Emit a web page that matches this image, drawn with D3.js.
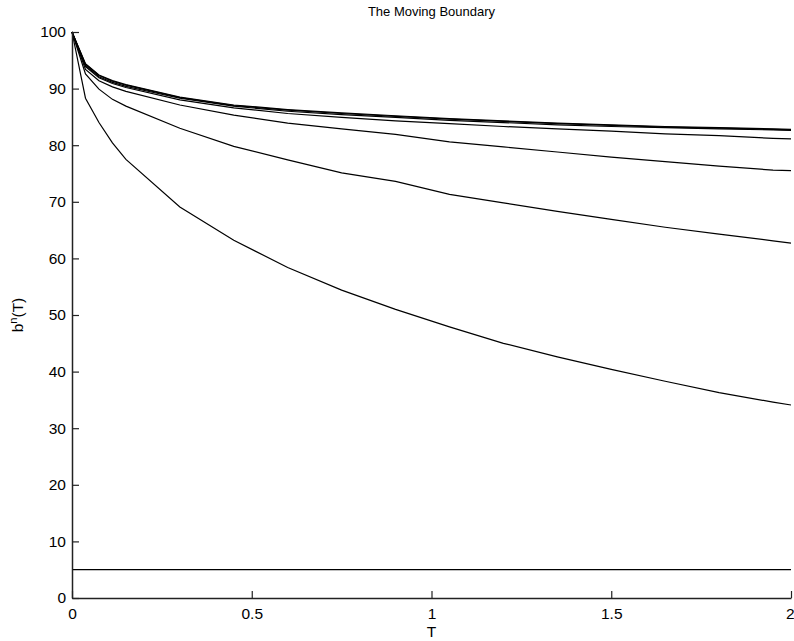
<!DOCTYPE html>
<html>
<head>
<meta charset="utf-8">
<script src="https://cdn.jsdelivr.net/npm/d3@7"></script>
<style>
  body { margin: 0; background: #fff; }
  svg { display: block; font-family: "Liberation Sans", Arial, Helvetica, sans-serif; }
</style>
</head>
<body>
<svg id="chart" width="794" height="641"></svg>
<script>
// Time grid (T)
const times = [0, 0.0375, 0.075, 0.1125, 0.15, 0.3, 0.45, 0.6, 0.75, 0.9, 1.05, 1.2, 1.35, 1.5, 1.65, 1.8, 1.95, 2];

// Boundary curves b^n(T)
const curveTopA = [100, 94.4, 92.4, 91.4, 90.7, 88.5, 87.1, 86.3, 85.7, 85.2, 84.7, 84.3, 83.9, 83.6, 83.3, 83.1, 82.9, 82.8];
const curveTopB = [100, 94.3, 92.3, 91.3, 90.6, 88.4, 87.0, 86.2, 85.6, 85.1, 84.6, 84.2, 83.8, 83.5, 83.2, 83.0, 82.8, 82.7];
const curveTopC = [100, 94.1, 92.1, 91.1, 90.4, 88.3, 86.9, 86.0, 85.4, 84.9, 84.4, 84.0, 83.6, 83.3, 83.1, 82.9, 82.7, 82.6];
const curve4 = [100, 93.9, 91.9, 90.9, 90.2, 88.0, 86.6, 85.6, 84.9, 84.3, 83.8, 83.3, 82.9, 82.5, 82.0, 81.7, 81.2, 81.1];
const curve3 = [100, 93.4, 91.4, 90.3, 89.5, 87.1, 85.3, 83.9, 82.9, 81.9, 80.6, 79.7, 78.8, 77.9, 77.1, 76.3, 75.6, 75.5];
const curve2 = [100, 92.6, 89.9, 88.1, 86.9, 83.0, 79.8, 77.4, 75.1, 73.6, 71.3, 69.8, 68.3, 66.9, 65.5, 64.3, 63.1, 62.7];
const curve1 = [100, 88.3, 84.0, 80.4, 77.5, 69.1, 63.2, 58.4, 54.4, 51.0, 47.9, 45.0, 42.6, 40.4, 38.3, 36.3, 34.6, 34.1];
const curve0 = [5, 5, 5, 5, 5, 5, 5, 5, 5, 5, 5, 5, 5, 5, 5, 5, 5, 5];

const seriesList = [curveTopA, curveTopB, curveTopC, curve4, curve3, curve2, curve1, curve0];

const xTicks = [0, 0.5, 1, 1.5, 2];
const xTickLabels = ["0", "0.5", "1", "1.5", "2"];
const yTicks = [0, 10, 20, 30, 40, 50, 60, 70, 80, 90, 100];

const titleText = "The Moving Boundary";
const xLabel = "T";

const svg = d3.select("#chart");
const margin = { left: 72, right: 3, top: 32, bottom: 43 };
const W = 794, H = 641;

const x = d3.scaleLinear().domain([0, 2]).range([margin.left, W - margin.right]);
const y = d3.scaleLinear().domain([0, 100]).range([H - margin.bottom, margin.top]);

const axisColor = "#222";

// Lines
const line = d3.line().x((d, i) => x(times[i])).y(d => y(d));
svg.append("g").selectAll("path")
  .data(seriesList)
  .join("path")
  .attr("d", d => line(d))
  .attr("fill", "none")
  .attr("stroke", "#000")
  .attr("stroke-width", 1.2);

// Axes
const xAxis = d3.axisBottom(x)
  .tickValues(xTicks)
  .tickFormat((d, i) => xTickLabels[i])
  .tickSizeInner(-7).tickSizeOuter(0).tickPadding(10);
const gx = svg.append("g").attr("transform", `translate(0,${y(0)})`).call(xAxis);

const yAxis = d3.axisLeft(y)
  .tickValues(yTicks)
  .tickSizeInner(-7).tickSizeOuter(0).tickPadding(6);
const gy = svg.append("g").attr("transform", `translate(${x(0)},0)`).call(yAxis);

[gx, gy].forEach(g => {
  g.select(".domain").attr("stroke", axisColor).attr("stroke-width", 1.5);
  g.selectAll(".tick line").attr("stroke", axisColor).attr("stroke-width", 1.2);
  g.selectAll(".tick text").attr("fill", "#000").attr("font-size", 15.5)
    .attr("font-family", "'Liberation Sans', Arial, Helvetica, sans-serif");
});
// keep the last x tick label inside the window
gx.selectAll(".tick text").filter(d => d === 2).attr("text-anchor", "end").attr("x", 3);

// Title
svg.append("text")
  .attr("x", (x(0) + x(2)) / 2).attr("y", 16)
  .attr("text-anchor", "middle")
  .attr("font-size", 13)
  .attr("fill", "#000")
  .text(titleText);

// X label
svg.append("text")
  .attr("x", (x(0) + x(2)) / 2).attr("y", 637)
  .attr("text-anchor", "middle")
  .attr("font-size", 15.5)
  .attr("fill", "#000")
  .text(xLabel);

// Y label b^n(T)
const yl = svg.append("text")
  .attr("transform", `translate(23,${(y(0) + y(100)) / 2}) rotate(-90)`)
  .attr("text-anchor", "middle")
  .attr("font-size", 15.5)
  .attr("fill", "#000");
yl.append("tspan").text("b");
yl.append("tspan").attr("dy", -6).attr("font-size", 11).text("n");
yl.append("tspan").attr("dy", 6).text("(T)");
</script>
</body>
</html>
